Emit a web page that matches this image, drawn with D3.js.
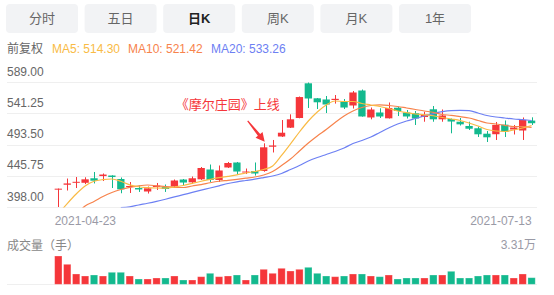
<!DOCTYPE html>
<html><head><meta charset="utf-8">
<script src="https://cdn.jsdelivr.net/npm/d3@7"></script>
<style>
body{margin:0;background:#fff;}
svg{display:block;font-family:"Liberation Sans",Arial,"Noto Sans CJK SC",sans-serif;}
</style>
</head><body>
<svg id="chart" width="554" height="295"></svg>
<script>
// ---------------- data ----------------
const tabs = ["分时","五日","日K","周K","月K","1年"];
const activeTab = "日K";
const adjustLabel = "前复权";
const maLabels = ["MA5: 514.30","MA10: 521.42","MA20: 533.26"];
const dates = ["2021-04-23","2021-04-26","2021-04-27","2021-04-28","2021-04-29","2021-04-30",
"2021-05-06","2021-05-07","2021-05-10","2021-05-11","2021-05-12","2021-05-13","2021-05-14",
"2021-05-17","2021-05-18","2021-05-19","2021-05-20","2021-05-21","2021-05-24","2021-05-25",
"2021-05-26","2021-05-27","2021-05-28","2021-05-31","2021-06-01","2021-06-02","2021-06-03",
"2021-06-04","2021-06-07","2021-06-08","2021-06-09","2021-06-10","2021-06-11","2021-06-15",
"2021-06-16","2021-06-17","2021-06-18","2021-06-21","2021-06-22","2021-06-23","2021-06-24",
"2021-06-25","2021-06-28","2021-06-29","2021-06-30","2021-07-01","2021-07-02","2021-07-05",
"2021-07-06","2021-07-07","2021-07-08","2021-07-09","2021-07-12","2021-07-13"];
const openP  = [425,432,435,435,441.9,445.3,446.1,440.8,428.6,427,421.7,428.6,428.6,429.3,440,435.7,440.3,455.3,439.3,458.4,466,451,453,453,490.1,505.7,519.2,534,587,564.1,562.3,561.5,558.9,553.1,576,534.8,542.4,533.5,549.7,542.4,541.2,535.5,547.3,532,532.5,528.3,521.8,518.3,510,509.2,523.8,516.4,514.9,530];
const highP  = [426.2,441.5,443.8,443.4,451.5,449.2,446.5,443.1,436.2,430.9,429.3,434.7,432.4,440,440.8,444.6,459.1,462.9,461.4,466.8,466.8,456.8,466,495.3,500.4,530.9,539.6,566.8,588.2,564.5,567.6,569.1,563,575.2,577.5,550,548.8,557.7,551.3,546.2,544.7,543.6,552.3,547,533.2,534,528.3,521,514.1,527.9,530.2,523.3,534.8,535];
const lowP   = [398,423.2,427,433,434,437.7,427,419,419.4,421,418.6,424,421,427.8,431.6,433.1,439.3,436.2,436.2,457.6,447.7,448.4,446,451.9,481.3,505,518.7,533.5,549.3,547.7,541.6,556,547.7,548.5,536,532,534,533.2,537,533.2,523.3,528.3,528.3,528.3,510.6,522.5,515.7,505,497.3,500.4,505,508.8,500.4,523.3];
const closeP = [426,434,436.5,440.3,438.2,447.6,443.8,425,430.1,424.8,426.6,430.9,425.5,438.5,435.4,441.9,457.6,439.3,453.8,465.2,452.2,452.2,449.2,489.2,492,511.5,532,566,563.8,558,554.6,563.3,550,573,536.3,547,536.3,549.3,544.7,536.3,533.2,539,532,537.8,528.6,524.3,517.6,509.1,504.5,523.3,513.1,519.5,531,526];
const volume = [33100,23390,12050,9710,10880,9710,14040,14040,9710,6200,6200,7370,7370,9710,5030,5030,8890,12870,8890,9710,10880,5030,10880,17540,12870,18710,15560,17540,19880,12870,9710,8890,9710,12050,12050,9710,8890,10880,6200,7370,7370,7370,10880,10880,15200,7370,7370,9710,10880,10880,10880,7370,12050,7720];
const ma5  = [387.3,403.3,417.9,430.1,437.3,439.9,440.8,437.3,431.9,428.9,427.6,427.0,426.7,428.6,430.9,434.2,437.4,440.2,442.8,444.8,447.0,450.0,452.2,455.3,460.6,476.7,494.3,512.6,529.4,543.2,553.9,560.0,559.2,559.2,556.1,553.9,551.6,548.5,544.7,542.1,540.1,538.9,537.4,534.8,532.5,530.2,526.4,521.8,516.4,514.1,513.4,515.7,518.7,522.5];
const ma10 = [null,null,386,399.5,406.4,414.0,420.2,424.7,428.1,430.4,431.6,430.4,429.0,428.1,427.8,430.1,432.2,435.0,437.3,438.8,440.3,442.0,443.8,446.9,452.2,461.4,471.3,483.6,495.8,506.5,516.4,527.1,537.0,544.7,550.0,553.1,553.9,553.1,551.6,549.3,547.0,544.7,542.7,539.3,538.1,536.0,534.0,530.2,526.4,524.8,522.8,521.0,520.9,519.7];
const ma20 = [null,null,null,null,null,null,null,397.0,398.3,401.1,403.7,406.6,409.9,413.4,416.8,420.3,423.7,427.0,430.4,433.9,436.5,438.5,440.5,442.9,445.4,449.2,455.3,461.4,468.3,473.6,478.2,482.8,488.2,495.0,499.6,505.0,511.9,518.7,524.8,529.4,533.2,537.0,540.8,543.6,545.2,545.5,545.2,541.6,537.8,535.5,534.0,532.5,531.4,530.2];
const priceTicks = [398.00, 445.75, 493.50, 541.25, 589.00];
const dateLabels = ["2021-04-23","2021-07-13"];
const volumeMax = 33100;
const volumeMaxLabel = "3.31万";
const volumeTitle = "成交量（手）";
const annotationText = "《摩尔庄园》上线";
const annotationDate = "2021-05-31";

// ---------------- styles ----------------
const RED = "#f5363a", GREEN = "#13b98e";
const C5 = "#f9bb45", C10 = "#f7834c", C20 = "#6d80f3";

const svg = d3.select("#chart");

// tabs
const tx = d3.scaleBand().domain(tabs).range([6, 471]).paddingInner(0.084).paddingOuter(0);
const tg = svg.append("g");
tg.selectAll("rect").data(tabs).join("rect")
  .attr("x", d => tx(d)).attr("y", 4).attr("width", tx.bandwidth()).attr("height", 29)
  .attr("rx", 4).attr("fill", "#f2f3f5");
tg.selectAll("text").data(tabs).join("text")
  .attr("x", d => tx(d) + tx.bandwidth()/2).attr("y", 18.5)
  .attr("text-anchor", "middle").attr("dominant-baseline", "central")
  .attr("font-size", 13)
  .attr("font-weight", d => d === activeTab ? "bold" : "normal")
  .attr("fill", d => d === activeTab ? "#222" : "#666")
  .text(d => d);

// legend
svg.append("text").attr("x", 7).attr("y", 52.5).attr("font-size", 12).attr("fill", "#666").text(adjustLabel);
const legX = [52, 128, 211], legC = [C5, C10, C20];
maLabels.forEach((t, i) => svg.append("text").attr("x", legX[i]).attr("y", 52.5)
  .attr("font-size", 12).attr("fill", legC[i]).text(t));

// scales
const x = d3.scaleBand().domain(dates).range([53.85, 536.05]).paddingInner(0.18).paddingOuter(0.09);
const cx = d => x(d) + x.bandwidth()/2;
const y = d3.scaleLinear().domain([398, 589]).range([207, 82]);
const yv = d3.scaleLinear().domain([0, volumeMax]).range([284.3, 256]);

// grid + price labels
const grid = svg.append("g");
grid.selectAll("line").data(priceTicks).join("line")
  .attr("x1", 7).attr("x2", 537).attr("y1", d => Math.round(y(d)) + 0.5).attr("y2", d => Math.round(y(d)) + 0.5)
  .attr("stroke", "#efefef").attr("stroke-width", 1);
grid.selectAll("text").data(priceTicks).join("text")
  .attr("x", 7).attr("y", d => y(d) - 6.5).attr("font-size", 12).attr("fill", "#666")
  .text(d => d.toFixed(2));

// clip for price area
svg.append("clipPath").attr("id", "pc").append("rect").attr("x", 7).attr("y", 60).attr("width", 530).attr("height", 147.5);

const candles = dates.map((d, i) => ({d, o: openP[i], h: highP[i], l: lowP[i], c: closeP[i], v: volume[i]}));
const pg = svg.append("g").attr("clip-path", "url(#pc)");

// candles
const cg = pg.append("g");
cg.selectAll("line").data(candles).join("line")
  .attr("x1", d => Math.round(cx(d.d)) + 0.5).attr("x2", d => Math.round(cx(d.d)) + 0.5)
  .attr("y1", d => y(d.h)).attr("y2", d => y(d.l))
  .attr("stroke", d => d.c >= d.o ? RED : GREEN).attr("stroke-width", 1);
cg.selectAll("rect").data(candles).join("rect")
  .attr("x", d => x(d.d)).attr("width", x.bandwidth())
  .attr("y", d => y(Math.max(d.o, d.c)))
  .attr("height", d => Math.max(1, Math.abs(y(d.o) - y(d.c))))
  .attr("fill", d => d.c >= d.o ? RED : GREEN);

// MA lines
const lineGen = arr => d3.line().defined((v) => v != null)
  .x((v, i) => cx(dates[i])).y(v => y(v)).curve(d3.curveMonotoneX)(arr);
[[ma20, C20], [ma10, C10], [ma5, C5]].forEach(([arr, col]) => {
  pg.append("path").attr("d", lineGen(arr)).attr("fill", "none").attr("stroke", col).attr("stroke-width", 1.2);
});

// annotation
const ai = dates.indexOf(annotationDate);
const tipX = cx(annotationDate) + 1, tipY = y(highP[ai]) - 1.5;
const tailX = tipX - 17, tailY = tipY - 21;
const ang = Math.atan2(tipY - tailY, tipX - tailX);
const hl = 9, hw = 4.5;
const bx = tipX - hl*Math.cos(ang), by = tipY - hl*Math.sin(ang);
const px = -Math.sin(ang), py = Math.cos(ang);
svg.append("path")
  .attr("d", `M${tailX - px*0.6},${tailY - py*0.6} L${bx - px*1.5},${by - py*1.5} L${bx - px*hw},${by - py*hw} L${tipX},${tipY} L${bx + px*hw},${by + py*hw} L${bx + px*1.5},${by + py*1.5} L${tailX + px*0.6},${tailY + py*0.6} Z`)
  .attr("fill", RED);
svg.append("text").attr("x", tipX + 15).attr("y", tipY - 32.5).attr("text-anchor", "end")
  .attr("font-size", 13).attr("fill", RED).text(annotationText);

// date labels
svg.append("text").attr("x", x(dateLabels[0])).attr("y", 225).attr("font-size", 12).attr("fill", "#9a9aa6").text(dateLabels[0]);
svg.append("text").attr("x", cx(dateLabels[1])).attr("y", 225).attr("text-anchor", "end").attr("font-size", 12).attr("fill", "#9a9aa6").text(dateLabels[1]);

// volume
svg.append("text").attr("x", 7).attr("y", 250).attr("font-size", 12).attr("fill", "#888").text(volumeTitle);
svg.append("text").attr("x", 536).attr("y", 248.5).attr("text-anchor", "end").attr("font-size", 12).attr("fill", "#9a9aa6").text(volumeMaxLabel);
svg.append("line").attr("x1", 7).attr("x2", 537).attr("y1", 284.5).attr("y2", 284.5).attr("stroke", "#efefef");
svg.append("g").selectAll("rect").data(candles).join("rect")
  .attr("x", d => x(d.d)).attr("width", x.bandwidth())
  .attr("y", d => yv(d.v)).attr("height", d => yv(0) - yv(d.v))
  .attr("fill", d => d.c >= d.o ? RED : GREEN)
  .attr("stroke", "#fff").attr("stroke-opacity", 0.35).attr("stroke-width", 0.8);
</script>
</body></html>
